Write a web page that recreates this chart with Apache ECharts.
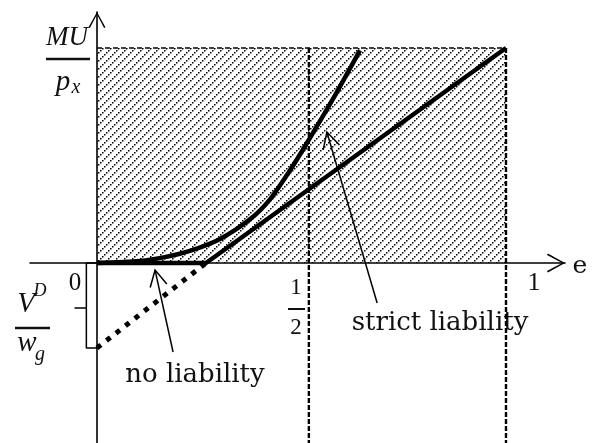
<!DOCTYPE html>
<html><head><meta charset="utf-8">
<script src="https://cdn.jsdelivr.net/npm/echarts@6/dist/echarts.min.js"></script>
<style>html,body{margin:0;padding:0;background:#fff}#c{width:594px;height:443px}</style>
</head><body><div id="c"></div><script>
// ---- data (effort e on x, MU/px on y) ----
const xRange = [-0.1638, 1.1443];
const yRange = [-0.8372, 1.1674];
const hatchE = [0, 1];
const hatchY = [1, 1];
const halfE = 0.518;
const fullE = 1;
const noLiabE = [0, 0.2665, 1];
const noLiabY = [0, 0, 1];
const noLiabDotE = [0, 0.2665];
const noLiabDotY = [-0.395, 0];
const strictE = [0, 0.105, 0.166, 0.227, 0.301, 0.374, 0.423, 0.472, 0.513, 0.577, 0.643];
const strictY = [0, 0.0098, 0.0274, 0.0563, 0.112, 0.203, 0.296, 0.431, 0.557, 0.763, 0.989];
const braceE = [0, -0.026, -0.026, -0.055, -0.026, -0.026, 0];
const braceY = [0, 0, -0.209, -0.209, -0.209, -0.395, -0.395];
const arrowTail = [[0.186, -0.414], [0.685, -0.186]];
const arrowTip = [[0.142, -0.033], [0.562, 0.609]];

const zip = (a, b) => a.map((v, i) => [v, b[i]]);

// hatch pattern tile
const tile = document.createElement('canvas');
tile.width = 8; tile.height = 8;
const g = tile.getContext('2d');
g.fillStyle = '#000';
for (let i = 0; i < 8; i += 2) g.fillRect(i, 6 - i, 1.5, 1.5);

const chevron = 'path://M0,18 L10,0 L20,18 L18.4,18.9 L10,3 L1.6,18.9 Z';
const serif = '"DejaVu Serif", serif';
const times = '"Liberation Serif", serif';
const ink = '#111';

function txt(x, y, text, font, extra) {
  return Object.assign({ type: 'text', x: x, y: y, silent: true,
    style: { text: text, font: font, fill: ink, align: 'center', verticalAlign: 'middle' } }, extra || {});
}
function bar(x1, x2, y, w) {
  return { type: 'line', silent: true, shape: { x1: x1, y1: y, x2: x2, y2: y }, style: { stroke: ink, lineWidth: w || 2 } };
}

const chart = echarts.init(document.getElementById('c'), null, { renderer: 'canvas' });
chart.setOption({
  animation: false,
  grid: { left: 30, right: 29, top: 12, bottom: 0 },
  xAxis: {
    type: 'value', min: xRange[0], max: xRange[1],
    splitLine: { show: false }, axisTick: { show: false }, axisLabel: { show: false },
    axisLine: { onZero: true, lineStyle: { color: '#000', width: 1.6 },
      symbol: ['none', chevron], symbolSize: [20, 18], symbolOffset: [0, -9] }
  },
  yAxis: {
    type: 'value', min: yRange[0], max: yRange[1],
    splitLine: { show: false }, axisTick: { show: false }, axisLabel: { show: false },
    axisLine: { onZero: true, lineStyle: { color: '#000', width: 1.6 },
      symbol: ['none', chevron], symbolSize: [18, 16], symbolOffset: [0, -8] }
  },
  series: [
    { type: 'line', z: 1, data: zip(hatchE, hatchY), symbol: 'none', silent: true,
      lineStyle: { color: '#000', width: 1.5, type: [5, 3] },
      areaStyle: { color: { image: tile, repeat: 'repeat' }, opacity: 1 } },
    { type: 'line', z: 2, data: [[halfE, 1], [halfE, yRange[0]]], symbol: 'none', silent: true,
      lineStyle: { color: '#000', width: 2.4, type: [5, 2] } },
    { type: 'line', z: 2, data: [[fullE, 1], [fullE, yRange[0]]], symbol: 'none', silent: true,
      lineStyle: { color: '#000', width: 2.4, type: [5, 2] } },
    { type: 'line', z: 5, data: zip(noLiabE, noLiabY), symbol: 'none', silent: true,
      lineStyle: { color: '#000', width: 4.5, cap: 'butt' } },
    { type: 'line', z: 5, data: zip(noLiabDotE, noLiabDotY), symbol: 'none', silent: true,
      lineStyle: { color: '#000', width: 5, type: [5, 7], cap: 'butt' } },
    { type: 'line', z: 5, data: zip(strictE, strictY), symbol: 'none', smooth: 0.25, silent: true,
      lineStyle: { color: '#000', width: 4.5 } },
    { type: 'line', z: 5, data: zip(braceE, braceY), symbol: 'none', silent: true,
      lineStyle: { color: '#000', width: 1.5 } },
    { type: 'custom', z: 6, silent: true,
      data: arrowTail.map((t, i) => [t[0], t[1], arrowTip[i][0], arrowTip[i][1]]),
      renderItem: function (params, api) {
        const p1 = api.coord([api.value(0), api.value(1)]);
        const p2 = api.coord([api.value(2), api.value(3)]);
        const dx = p2[0] - p1[0], dy = p2[1] - p1[1];
        const L = Math.sqrt(dx * dx + dy * dy);
        const ux = dx / L, uy = dy / L, nx = -uy, ny = ux;
        const back = 16, half = 8.5;
        const w1 = [p2[0] - back * ux + half * nx, p2[1] - back * uy + half * ny];
        const w2 = [p2[0] - back * ux - half * nx, p2[1] - back * uy - half * ny];
        return { type: 'group', children: [
          { type: 'line', shape: { x1: p1[0], y1: p1[1], x2: p2[0], y2: p2[1] }, style: { stroke: '#000', lineWidth: 1.5 } },
          { type: 'polyline', shape: { points: [w1, p2, w2] }, style: { stroke: '#000', lineWidth: 1.5, fill: null } }
        ] };
      } }
  ],
  graphic: [
    txt(67, 38, 'MU', 'italic 27px ' + times),
    bar(46, 90, 59, 2.5),
    txt(63, 82, 'p', 'italic 29px ' + times),
    txt(76, 88, 'x', 'italic 20px ' + times),
    txt(26, 304, 'V', 'italic 29px ' + times),
    txt(40, 291, 'D', 'italic 18px ' + times),
    bar(15, 50, 328, 2.5),
    txt(27, 343, 'w', 'italic 29px ' + times),
    txt(40, 355, 'g', 'italic 20px ' + times),
    txt(75, 283, '0', '25px ' + times),
    txt(534, 283, '1', '26px ' + times),
    txt(296, 288, '1', '23px ' + times),
    bar(288, 305, 309, 2),
    txt(296, 328, '2', '23px ' + times),
    txt(580, 266, 'e', '25px ' + serif),
    txt(195, 375, 'no liability', '26px ' + serif),
    txt(440, 323, 'strict liability', '26px ' + serif)
  ]
});
</script></body></html>
